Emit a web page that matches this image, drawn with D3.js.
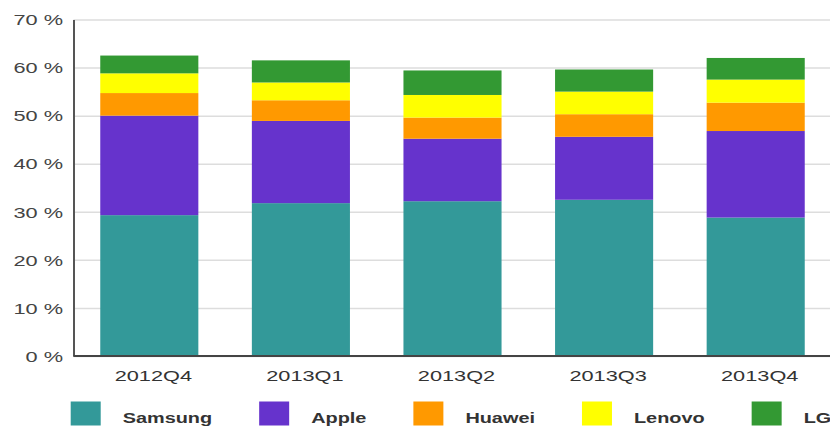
<!DOCTYPE html>
<html>
<head>
<meta charset="utf-8">
<script src="https://cdn.jsdelivr.net/npm/d3@7"></script>
<style>
  html, body { margin: 0; padding: 0; background: #fff; }
  svg { display: block; font-family: "Liberation Sans", Arial, sans-serif; }
</style>
</head>
<body>
<svg id="chart" width="830" height="426"></svg>
<script>
var quarters = ['2012Q4', '2013Q1', '2013Q2', '2013Q3', '2013Q4'];
var vendors = ['Samsung', 'Apple', 'Huawei', 'Lenovo', 'LG'];
var samsung = [29.3, 31.8, 32.2, 32.5, 28.8];
var apple = [20.7, 17.1, 13.0, 13.1, 18.0];
var huawei = [4.7, 4.3, 4.4, 4.7, 5.9];
var lenovo = [4.1, 3.7, 4.7, 4.7, 4.8];
var lg = [3.7, 4.6, 5.1, 4.6, 4.5];
var yTicks = [0, 10, 20, 30, 40, 50, 60, 70];
var colors = ['#339999', '#6633cc', '#ff9900', '#ffff00', '#339933'];

// text in the original is stretched sideways
var stretch = 1.45;

var rows = quarters.map(function (q, i) {
  return {
    quarter: q,
    Samsung: samsung[i],
    Apple: apple[i],
    Huawei: huawei[i],
    Lenovo: lenovo[i],
    LG: lg[i]
  };
});

var svg = d3.select('#chart');
var plotLeft = 73.5, plotRight = 831.5, plotTop = 19.5, plotBottom = 356;

var x = d3.scaleBand()
  .domain(quarters)
  .range([plotLeft, plotRight])
  .paddingInner(0.353)
  .paddingOuter(0.1765);

var y = d3.scaleLinear()
  .domain([0, 70])
  .range([plotBottom, plotTop]);

var color = d3.scaleOrdinal().domain(vendors).range(colors);

// grid
svg.append('g')
  .attr('class', 'grid')
  .attr('transform', 'translate(' + plotLeft + ',0)')
  .call(d3.axisLeft(y).tickValues(yTicks).tickSize(-(830 - plotLeft)).tickFormat(''))
  .call(function (g) {
    g.select('.domain').remove();
    g.selectAll('line').attr('stroke', '#dddddd').attr('stroke-width', 1.5);
  });

// bars
var series = d3.stack().keys(vendors)(rows);

svg.append('g')
  .selectAll('g')
  .data(series)
  .join('g')
  .attr('fill', function (s) { return color(s.key); })
  .selectAll('rect')
  .data(function (s) { return s; })
  .join('rect')
  .attr('x', function (d) { return x(d.data.quarter); })
  .attr('width', x.bandwidth())
  .attr('y', function (d) { return y(d[1]); })
  .attr('height', function (d) { return y(d[0]) - y(d[1]); });

// y axis
svg.append('g')
  .attr('transform', 'translate(' + plotLeft + ',0)')
  .call(d3.axisLeft(y).tickValues(yTicks).tickSize(0).tickFormat(function (d) { return d + ' %'; }))
  .call(function (g) {
    g.select('.domain').attr('stroke', '#555').attr('stroke-width', 2);
    g.selectAll('text')
      .attr('x', 0)
      .attr('dy', '0.35em')
      .attr('transform', 'translate(-10.5,0) scale(' + stretch + ',1)')
      .attr('fill', '#444')
      .attr('font-size', 15)
      .attr('font-family', '"Liberation Sans", Arial, sans-serif');
  });

// x axis
svg.append('g')
  .attr('transform', 'translate(0,' + plotBottom + ')')
  .call(d3.axisBottom(x).tickSize(0))
  .call(function (g) {
    g.select('.domain').attr('stroke', '#444').attr('stroke-width', 2)
      .attr('d', 'M' + plotLeft + ',0H830');
    g.selectAll('text')
      .attr('y', 0)
      .attr('dy', 0)
      .attr('transform', 'translate(4,24.5) scale(' + stretch + ',1)')
      .attr('fill', '#333')
      .attr('font-size', 15)
      .attr('font-family', '"Liberation Sans", Arial, sans-serif');
  });

// legend
var legend = svg.append('g').attr('class', 'legend');
var lx = 70.7;
vendors.forEach(function (v) {
  var item = legend.append('g').attr('transform', 'translate(' + lx + ',401.5)');
  item.append('rect')
    .attr('width', 30)
    .attr('height', 24)
    .attr('fill', color(v));
  var t = item.append('text')
    .attr('transform', 'translate(52,21) scale(1.42,1)')
    .attr('font-size', 14)
    .attr('font-weight', 'bold')
    .attr('fill', '#333')
    .text(v);
  var w = t.node().getComputedTextLength() * 1.42;
  lx += 52 + w + 47;
});
</script>
</body>
</html>
